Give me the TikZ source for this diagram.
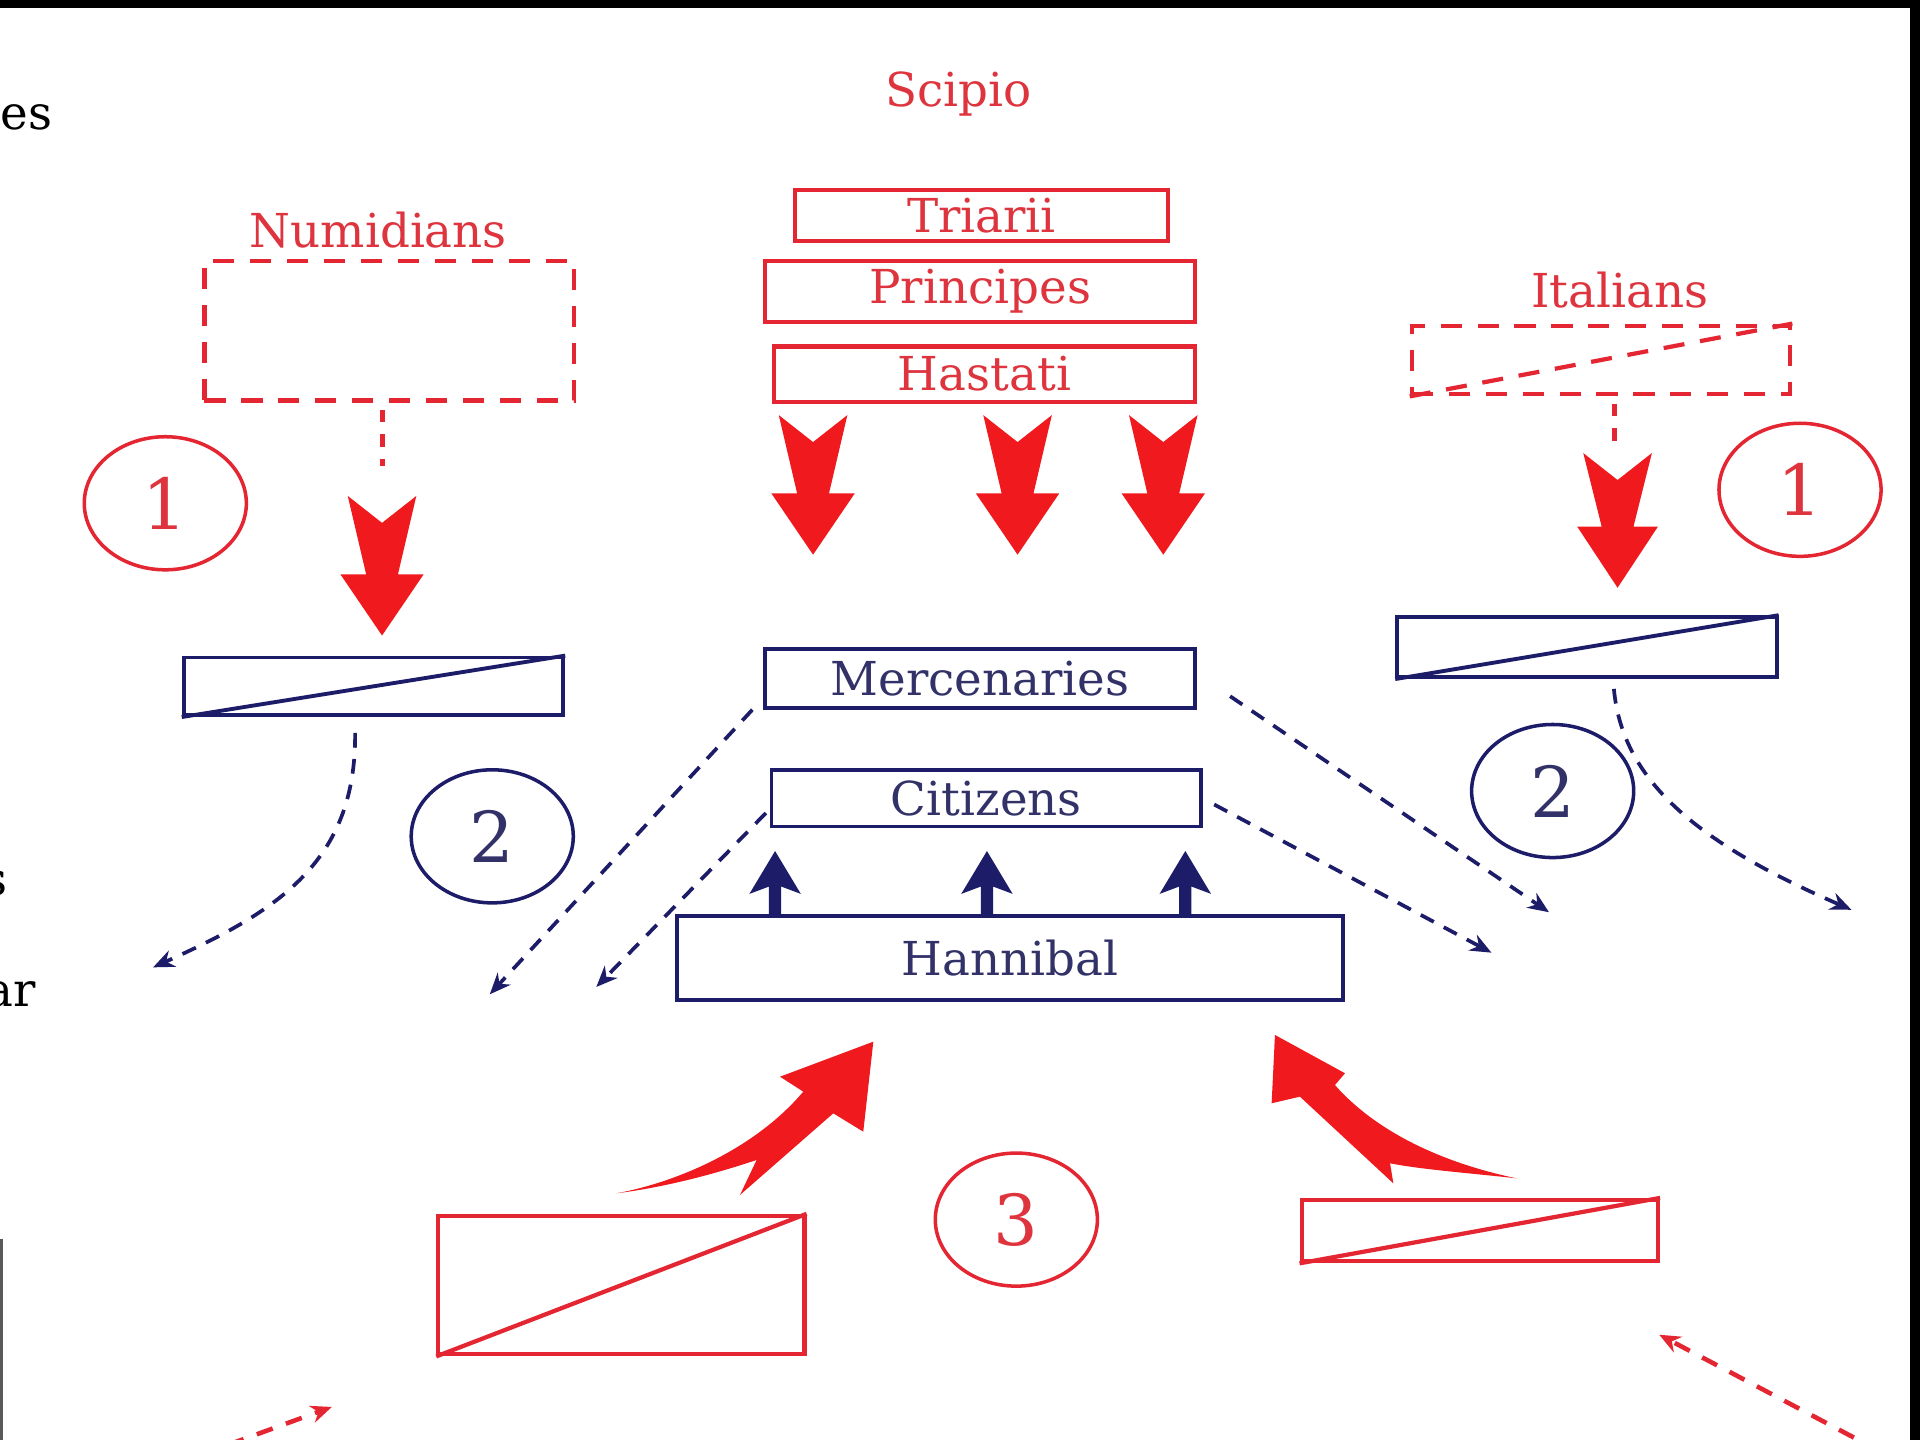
\documentclass[tikz,border=0pt]{standalone}
\usepackage{fontspec}
\setmainfont{DejaVu Serif}
\usetikzlibrary{arrows.meta,shapes.geometric,fit,calc}
\definecolor{rline}{RGB}{228,38,50}
\definecolor{rtxt}{RGB}{222,52,62}
\definecolor{rfill}{RGB}{240,26,30}
\definecolor{navy}{RGB}{28,28,105}
\definecolor{ntxt}{RGB}{50,50,105}
\tikzset{
  txt/.style={font=\fontsize{13.3}{15}\selectfont},
  rtext/.style={txt,text=rtxt},
  ntext/.style={txt,text=ntxt},
  rbox/.style={draw=rline,line width=1.2pt,inner sep=0pt},
  nbox/.style={draw=navy,line width=1.1pt,inner sep=0pt},
  rdashbox/.style={draw=rline,line width=1.2pt,inner sep=0pt,dash pattern=on 6pt off 4.5pt},
  rnum/.style={draw=rline,text=rtxt,line width=1pt,ellipse,minimum width=1.62cm,minimum height=1.33cm,inner sep=0pt,font=\fontsize{20}{22}\selectfont},
  nnum/.style={draw=navy,text=ntxt,line width=1pt,ellipse,minimum width=1.62cm,minimum height=1.33cm,inner sep=0pt,font=\fontsize{20}{22}\selectfont},
  bdash/.style={draw=navy,line width=1.05pt,dash pattern=on 4.2pt off 3.2pt,-{Stealth[length=6pt,width=5pt]}},
  rdash/.style={draw=rline,line width=1.3pt,dash pattern=on 4.8pt off 4pt,-{Stealth[length=6pt,width=5pt]}},
  rshort/.style={draw=rline,line width=1.4pt,dash pattern=on 3.5pt off 3.5pt},
  bigdown/.pic={\fill[rfill] (-28,0) -- (0,22) -- (28,0) -- (13,64) -- (34,64) -- (0,114) -- (-34,64) -- (-13,64) -- cycle;},
  bigdownS/.pic={\fill[rfill] (-28,0) -- (0,22) -- (28,0) -- (13,60) -- (33,60) -- (0,110) -- (-33,60) -- (-13,60) -- cycle;},
  smallup/.pic={\fill[navy] (-5,0) -- (-5,-24) -- (-21,-18) -- (0,-53) -- (21,-18) -- (5,-24) -- (5,0) -- cycle;}
}
\begin{document}
\begin{tikzpicture}[x=0.012245cm,y=-0.012245cm]
\useasboundingbox (0,0) rectangle (1568,1176);
\fill[white] (0,0) rectangle (1568,1176);
\clip (0,0) rectangle (1568,1176);

% frame fragments
\draw[black,line width=2.2pt] (0,3) -- (1568,3);
\draw[black,line width=2.8pt] (1564,0) -- (1564,1176);
\draw[gray!70!black,line width=0.8pt] (1,1012) -- (1,1176);

% clipped text fragments at left edge
\node[txt,anchor=base west,inner sep=0pt] (frA) at (0,106) {es};
\node[txt,anchor=base east,inner sep=0pt] (frB) at (7,731) {s};
\node[txt,anchor=base east,inner sep=0pt] (frC) at (30,822) {ar};

% Scipio
\node[rtext] (scipio) at (783,77) {Scipio};
\node[rbox,fit={(649,155) (954,197)},label={[rtext]center:Triarii}] (tri) {};
\node[rbox,fit={(625,213) (976,263)},label={[rtext]center:Principes}] (pri) {};
\node[rbox,fit={(632,283) (976,328)},label={[rtext]center:Hastati}] (has) {};
\pic at (664,339) {bigdown};
\pic at (831,339) {bigdown};
\pic at (950,339) {bigdown};

% Numidians
\node[rtext] (numl) at (309,188) {Numidians};
\node[rdashbox,fit={(167,213) (469,327)}] (numbox) {};
\draw[rshort] ($(numbox.south)+(-6,6)$) coordinate (na) -- ++(0,46) coordinate (nb);
\pic at (312,405) {bigdown};
\node[rnum] (c1l) at (135,411) {1};
\node[nbox,fit={(150,537) (460,584)}] (numblue) {};
\draw[navy,line width=1.1pt] (numblue.south west) -- (numblue.north east);
\coordinate (nl0) at ($(numblue.south)+(-15,13)$);
\coordinate (nl1) at (125,790);
\draw[bdash] (nl0) .. controls (291,705) and (225,745) .. (nl1);
\node[nnum] (c2l) at (402,683) {2};

% Italians
\node[rtext] (itl) at (1323,237) {Italians};
\node[rdashbox,fit={(1153,266) (1462,322)}] (itbox) {};
\draw[rline,line width=1.2pt,dash pattern=on 6pt off 4.5pt] (itbox.south west) -- (itbox.north east);
\draw[rshort] ($(itbox.south)+(11,6)$) coordinate (ia) -- ++(0,36) coordinate (ib);
\pic at (1321,370) {bigdownS};
\node[rnum] (c1r) at (1470,400) {1};
\node[nbox,fit={(1141,504) (1451,553)}] (itblue) {};
\draw[navy,line width=1.1pt] (itblue.south west) -- (itblue.north east);
\coordinate (ir0) at ($(itblue.south)+(22,8)$);
\coordinate (ir1) at (1512,743);
\draw[bdash] (ir0) .. controls (1325,640) and (1390,690) .. (ir1);
\node[nnum] (c2r) at (1268,646) {2};

% Carthaginian centre
\node[nbox,fit={(625,530) (976,578)},label={[ntext]center:Mercenaries}] (merc) {};
\node[nbox,fit={(630,629) (981,675)},label={[ntext]center:Citizens}] (cit) {};
\node[nbox,fit={(553,748) (1097,817)},label={[ntext]center:Hannibal}] (han) {};
\pic at (633,748) {smallup};
\pic at (806,748) {smallup};
\pic at (968,748) {smallup};

\coordinate (mL) at (400,812);
\coordinate (cL) at (487,806);
\coordinate (mR) at (1265,745);
\coordinate (cR) at (1218,778);
\draw[bdash] ($(merc.south west)+(-9,0)$) -- (mL);
\draw[bdash] ($(cit.west)+(-3,12)$) -- (cL);
\draw[bdash] ($(merc.south east)+(27,-11)$) -- (mR);
\draw[bdash] ($(cit.east)+(9,5)$) -- (cR);

% bottom
\node[rnum] (c3) at (830,996) {3};
\node[rbox,fit={(358,993) (657,1106)}] (rl) {};
\draw[rline,line width=1.2pt] (rl.south west) -- (rl.north east);
\node[rbox,fit={(1063,980) (1354,1030)}] (rr) {};
\draw[rline,line width=1.2pt] (rr.south west) -- (rr.north east);

% swoosh arrows
\fill[rfill] (503.6,974.5) .. controls (550,966) and (615,940) .. (656,891.5)
  -- (637,879.3) -- (713.2,850.7) -- (705,924.2) -- (680.5,909.2)
  -- (604.3,975.9) -- (617.9,947.3) .. controls (580,960) and (540,970) .. cycle;
\fill[rfill] (1041.2,845.2) -- (1098.4,876.5) -- (1090.2,886.1)
  .. controls (1120,920) and (1170,948) .. (1238.6,962.3)
  .. controls (1200,958) and (1160,955) .. (1135.2,950)
  -- (1137.9,966.4) -- (1061.6,895.6) -- (1038.5,901) -- cycle;

\coordinate (bl0) at (186,1180);
\coordinate (bl1) at (271,1149);
\draw[rdash] (bl0) -- (bl1);
\coordinate (br0) at (1514,1174);
\coordinate (br1) at (1355,1090);
\draw[rdash] (br0) -- (br1);
\end{tikzpicture}
\end{document}
